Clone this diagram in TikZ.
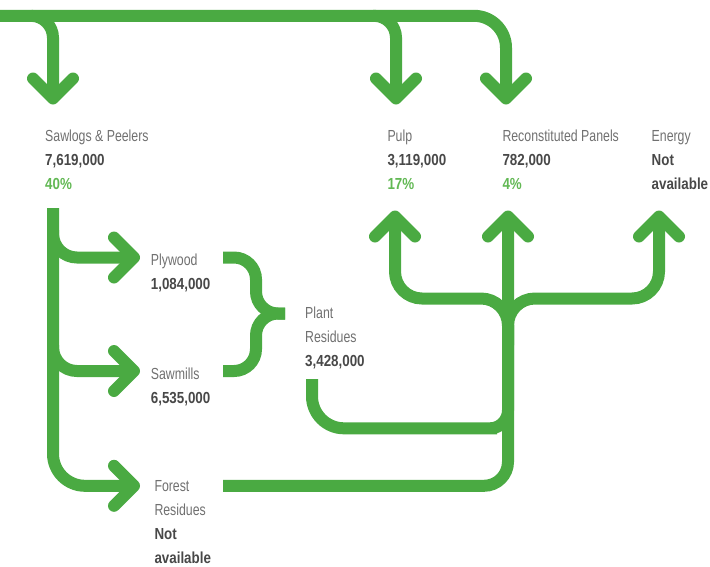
\documentclass[tikz,border=0pt]{standalone}
\usepackage{fontspec}
\usepackage{tikz}
\usetikzlibrary{positioning}
\usetikzlibrary{calc}
\newfontfamily\kindfont{Liberation Sans}[FakeStretch=0.77]
\newfontfamily\qtyfont{Liberation Sans}[FakeStretch=0.835]
\definecolor{leafgreen}{RGB}{74,170,66}
\definecolor{pctgreen}{RGB}{98,184,84}
\definecolor{kindgray}{RGB}{112,112,112}
\definecolor{qtygray}{RGB}{72,72,72}
\tikzset{
  flow/.style={draw=leafgreen, line width=12pt},
  chevron/.style={draw=leafgreen, line width=12pt, line cap=round, line join=round},
  kind/.style={anchor=base west, inner sep=0pt, text height=12pt, text depth=3pt,
    text=kindgray, font=\kindfont\fontsize{16}{19}\selectfont},
  qty/.style={kind, text=qtygray, font=\qtyfont\bfseries\fontsize{16}{19}\selectfont},
  pct/.style={qty, text=pctgreen},
  under/.style={below=8.6pt of #1.south west, anchor=north west}
}

\begin{document}
\begin{tikzpicture}[x=1pt, y=-1pt]
    \useasboundingbox (0,0) rectangle (710,566);

    \coordinate (src) at (0,15.8);
    \coordinate (sawJ) at (31,15.8);
    \coordinate (pulpJ) at (373,15.8);
    \coordinate (sawT) at (53,98.5);
    \coordinate (pulpT) at (396,98.5);
    \coordinate (panT) at (506,98.5);
    \coordinate (stem) at (53,208);
    \coordinate (plyJ) at (53,230);
    \coordinate (millJ) at (53,345);
    \coordinate (plyT) at (134,257.5);
    \coordinate (millT) at (134,371);
    \coordinate (forestT) at (134,485.8);
    \coordinate (plyE) at (223,257.5);
    \coordinate (millE) at (223,371);
    \coordinate (brace) at (256,313.5);
    \coordinate (cusp) at (285,313.5);
    \coordinate (plantS) at (312,379);
    \coordinate (plantM) at (465,428.3);
    \coordinate (forestE) at (223,485.8);
    \coordinate (hub) at (508,345);
    \coordinate (pulpK) at (395,298.5);
    \coordinate (enK) at (659,298.5);
    \coordinate (pulpU) at (395,216.5);
    \coordinate (panU) at (508,216.5);
    \coordinate (enU) at (659,216.5);

    \draw[flow, rounded corners=32pt] (src) -| (panT);
    \draw[flow, rounded corners=22pt] (sawJ) -| (sawT);
    \draw[flow, rounded corners=22pt] (pulpJ) -| (pulpT);

    \draw[flow, rounded corners=32pt] (stem) |- (forestT);
    \draw[flow, rounded corners=24pt] (plyJ) |- (plyT);
    \draw[flow, rounded corners=24pt] (millJ) |- (millT);

    \draw[flow, rounded corners=22pt] (plyE) -| (brace) -- (cusp);
    \draw[flow, rounded corners=22pt] (millE) -| (brace) -- (cusp);

    \draw[flow] (plantS) [rounded corners=32pt] |- (plantM)
        [rounded corners=18pt] -| (hub);
    \draw[flow, rounded corners=24pt] (forestE) -| (panU);
    \draw[flow, rounded corners=27pt] (hub) |- (pulpK) -- (pulpU);
    \draw[flow, rounded corners=27pt] (hub) |- (enK) -- (enU);

    \foreach \t in {sawT,pulpT,panT}
        \draw[chevron] ($(\t)+(-20,-20)$) -- (\t) -- ($(\t)+(20,-20)$);
    \foreach \t in {plyT,millT,forestT}
        \draw[chevron] ($(\t)+(-20,-20)$) -- (\t) -- ($(\t)+(-20,20)$);
    \foreach \t in {pulpU,panU,enU}
        \draw[chevron] ($(\t)+(-20,20)$) -- (\t) -- ($(\t)+(20,20)$);

    \node[kind] (saw) at (45,141) {Sawlogs \& Peelers};
    \node[qty, under=saw] (sawN) {7,619,000};
    \node[pct, under=sawN] (sawP) {40\%};
    \node[kind] (pulp) at (387.3,141) {Pulp};
    \node[qty, under=pulp] (pulpN) {3,119,000};
    \node[pct, under=pulpN] (pulpP) {17\%};
    \node[kind] (pan) at (502.3,141) {Reconstituted Panels};
    \node[qty, under=pan] (panN) {782,000};
    \node[pct, under=panN] (panP) {4\%};
    \node[kind] (en) at (651.5,141) {Energy};
    \node[qty, under=en] (enN) {Not};
    \node[qty, under=enN] (enA) {available};
    \node[kind] (ply) at (150.7,265.7) {Plywood};
    \node[qty, under=ply] (plyN) {1,084,000};
    \node[kind] (mill) at (150.7,379) {Sawmills};
    \node[qty, under=mill] (millN) {6,535,000};
    \node[kind] (plant) at (305,318.3) {Plant};
    \node[kind, under=plant] (plantR) {Residues};
    \node[qty, under=plantR] (plantN) {3,428,000};
    \node[kind] (forest) at (154.3,491.7) {Forest};
    \node[kind, under=forest] (forestR) {Residues};
    \node[qty, under=forestR] (forestN) {Not};
    \node[qty, under=forestN] (forestA) {available};
\end{tikzpicture}
\end{document}
